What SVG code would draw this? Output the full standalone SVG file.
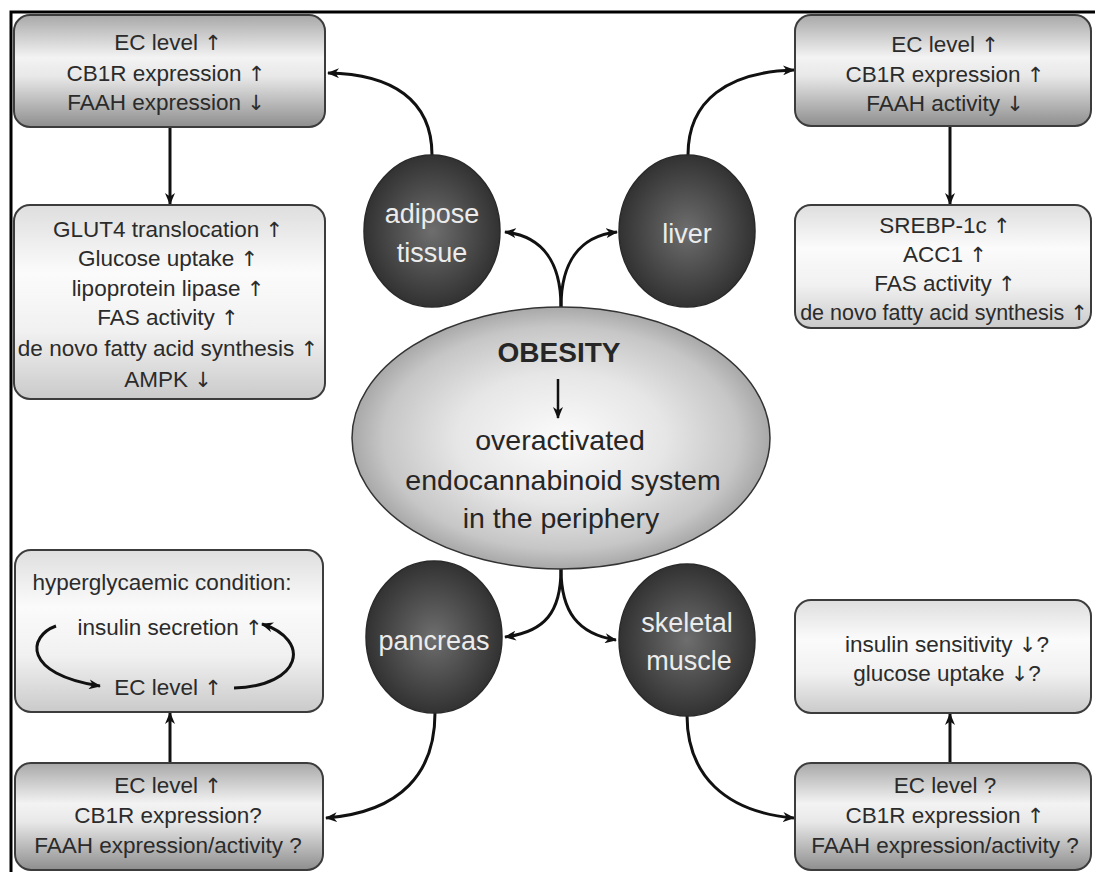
<svg xmlns="http://www.w3.org/2000/svg" width="1095" height="872" viewBox="0 0 1095 872">
  <style>
    .box { stroke: #3c3c3c; stroke-width: 2; }
    .metal { fill: url(#metalGrad); }
    .light { fill: url(#lightGrad); }
    .t { font-family: "Liberation Sans", Arial, sans-serif; font-size: 22.5px; fill: #2b2b2b; text-anchor: middle; }
    .ar { font-family: "DejaVu Sans", sans-serif; font-size: 21px; fill: #2b2b2b; }
    .organ { fill: url(#organGrad); stroke: #2a2a2a; stroke-width: 1.5; }
    .ot { font-family: "Liberation Sans", Arial, sans-serif; font-size: 27px; fill: #ececec; text-anchor: middle; }
    .ct { font-family: "Liberation Sans", Arial, sans-serif; font-size: 28.5px; fill: #262626; text-anchor: middle; }
    .conn { fill: none; stroke: #111; stroke-width: 3; marker-end: url(#head); }
    .frame { stroke: #000; stroke-width: 3; fill: none; }
  </style>
  <defs>
    <linearGradient id="metalGrad" x1="0" y1="0" x2="0" y2="1">
      <stop offset="0" stop-color="#a8a8a8"/>
      <stop offset="0.38" stop-color="#f3f3f3"/>
      <stop offset="0.55" stop-color="#e8e8e8"/>
      <stop offset="1" stop-color="#8e8e8e"/>
    </linearGradient>
    <linearGradient id="lightGrad" x1="0" y1="0" x2="0" y2="1">
      <stop offset="0" stop-color="#dedede"/>
      <stop offset="0.35" stop-color="#fbfbfb"/>
      <stop offset="0.65" stop-color="#f1f1f1"/>
      <stop offset="1" stop-color="#cacaca"/>
    </linearGradient>
    <radialGradient id="organGrad" cx="0.5" cy="0.5" r="0.5">
      <stop offset="0" stop-color="#6e6e6e"/>
      <stop offset="0.6" stop-color="#4a4a4a"/>
      <stop offset="1" stop-color="#323232"/>
    </radialGradient>
    <radialGradient id="coreGrad" cx="0.5" cy="0.5" r="0.5">
      <stop offset="0" stop-color="#fbfbfb"/>
      <stop offset="0.5" stop-color="#e6e6e6"/>
      <stop offset="0.85" stop-color="#c6c6c6"/>
      <stop offset="1" stop-color="#a8a8a8"/>
    </radialGradient>
    <marker id="head" viewBox="0 0 12 10" markerWidth="12" markerHeight="10" refX="11" refY="5" orient="auto" markerUnits="userSpaceOnUse">
      <path d="M0,0 L12,5 L0,10 L3.5,5 Z" fill="#111"/>
    </marker>
  </defs>

  <rect width="1095" height="872" fill="#fff"/>

  <!-- outer frame (top and left edges) -->
  <path class="frame" d="M1095,12 H11 V872"/>

  <!-- connectors -->
  <g id="connectors">
    <path class="conn" d="M561,307 C561,262 542,236 505,232"/>
    <path class="conn" d="M561,307 C561,262 580,236 617,232"/>
    <path class="conn" d="M432,155 C432,100 392,74 328,73"/>
    <path class="conn" d="M688,155 C688,100 728,72 794,70"/>
    <path class="conn" d="M561,569 C561,612 545,632 505,637"/>
    <path class="conn" d="M561,569 C561,612 578,634 616,640"/>
    <path class="conn" d="M435,713 C435,772 402,812 326,818"/>
    <path class="conn" d="M687,715 C687,775 725,812 794,818"/>
    <path class="conn" d="M170,127 V204"/>
    <path class="conn" d="M950,126 V204"/>
    <path class="conn" d="M170,763 V713"/>
    <path class="conn" d="M950,763 V714"/>
  </g>

  <!-- adipose tissue: receptor/enzyme status -->
  <g id="adipose-status">
    <rect class="box metal" x="14" y="15" width="311" height="112" rx="16"/>
    <text class="t" x="168" y="50">EC level  <tspan class="ar">↑</tspan></text>
    <text class="t" x="166" y="81">CB1R expression  <tspan class="ar">↑</tspan></text>
    <text class="t" x="166" y="110">FAAH expression  <tspan class="ar">↓</tspan></text>
  </g>

  <!-- adipose tissue: metabolic effects -->
  <g id="adipose-effects">
    <rect class="box light" x="14" y="205" width="311" height="194" rx="16"/>
    <text class="t" x="168" y="237">GLUT4 translocation  <tspan class="ar">↑</tspan></text>
    <text class="t" x="168" y="266">Glucose uptake  <tspan class="ar">↑</tspan></text>
    <text class="t" x="168" y="296">lipoprotein lipase  <tspan class="ar">↑</tspan></text>
    <text class="t" x="168" y="325">FAS activity  <tspan class="ar">↑</tspan></text>
    <text class="t" x="168" y="356">de novo fatty acid synthesis  <tspan class="ar">↑</tspan></text>
    <text class="t" x="168" y="387">AMPK  <tspan class="ar">↓</tspan></text>
  </g>

  <!-- liver: receptor/enzyme status -->
  <g id="liver-status">
    <rect class="box metal" x="795" y="15" width="296" height="111" rx="16"/>
    <text class="t" x="945" y="52">EC level  <tspan class="ar">↑</tspan></text>
    <text class="t" x="945" y="82">CB1R expression  <tspan class="ar">↑</tspan></text>
    <text class="t" x="945" y="111">FAAH activity <tspan class="ar">↓</tspan></text>
  </g>

  <!-- liver: metabolic effects -->
  <g id="liver-effects">
    <rect class="box light" x="795" y="205" width="296" height="123" rx="16"/>
    <text class="t" x="945" y="233">SREBP-1c  <tspan class="ar">↑</tspan></text>
    <text class="t" x="945" y="262">ACC1  <tspan class="ar">↑</tspan></text>
    <text class="t" x="945" y="291">FAS activity  <tspan class="ar">↑</tspan></text>
    <text class="t" x="944" y="320" style="font-size:21.5px">de novo fatty acid synthesis <tspan class="ar">↑</tspan></text>
  </g>

  <!-- pancreas: effects -->
  <g id="pancreas-effects">
    <rect class="box light" x="15" y="550" width="308" height="162" rx="16"/>
    <text class="t" x="162" y="590">hyperglycaemic condition:</text>
    <text class="t" x="170" y="635">insulin secretion  <tspan class="ar">↑</tspan></text>
    <text class="t" x="168" y="695">EC level  <tspan class="ar">↑</tspan></text>
    <path class="conn" d="M56,626 C28,636 22,674 100,686"/>
    <path class="conn" d="M234,688 C302,686 312,640 262,624"/>
  </g>

  <!-- pancreas: receptor/enzyme status -->
  <g id="pancreas-status">
    <rect class="box metal" x="15" y="763" width="308" height="107" rx="16"/>
    <text class="t" x="168" y="793">EC level  <tspan class="ar">↑</tspan></text>
    <text class="t" x="168" y="823">CB1R expression?</text>
    <text class="t" x="168" y="853">FAAH expression/activity ?</text>
  </g>

  <!-- skeletal muscle: effects -->
  <g id="muscle-effects">
    <rect class="box light" x="795" y="600" width="296" height="113" rx="16"/>
    <text class="t" x="947" y="652">insulin sensitivity  <tspan class="ar">↓</tspan>?</text>
    <text class="t" x="947" y="681">glucose uptake  <tspan class="ar">↓</tspan>?</text>
  </g>

  <!-- skeletal muscle: receptor/enzyme status -->
  <g id="muscle-status">
    <rect class="box metal" x="795" y="763" width="296" height="107" rx="16"/>
    <text class="t" x="945" y="793">EC level ?</text>
    <text class="t" x="945" y="823">CB1R expression  <tspan class="ar">↑</tspan></text>
    <text class="t" x="945" y="853">FAAH expression/activity ?</text>
  </g>

  <!-- organs -->
  <g id="adipose-tissue">
    <ellipse class="organ" cx="432" cy="231" rx="68" ry="76"/>
    <text class="ot" x="432" y="223">adipose</text>
    <text class="ot" x="432" y="262">tissue</text>
  </g>
  <g id="liver">
    <ellipse class="organ" cx="687" cy="231" rx="68" ry="76"/>
    <text class="ot" x="687" y="243">liver</text>
  </g>
  <g id="pancreas">
    <ellipse class="organ" cx="434" cy="637" rx="68" ry="76"/>
    <text class="ot" x="434" y="650">pancreas</text>
  </g>
  <g id="skeletal-muscle">
    <ellipse class="organ" cx="687" cy="640" rx="68" ry="76"/>
    <text class="ot" x="687" y="632">skeletal</text>
    <text class="ot" x="689" y="670">muscle</text>
  </g>

  <!-- central node -->
  <g id="obesity">
    <ellipse cx="561" cy="438" rx="209" ry="131" fill="url(#coreGrad)" stroke="#333" stroke-width="1.5"/>
    <text class="ct" x="559" y="362" style="font-weight:bold;font-size:28px">OBESITY</text>
    <path class="conn" d="M558,379 V418" style="stroke-width:2.5"/>
    <text class="ct" x="560" y="450">overactivated</text>
    <text class="ct" x="563" y="490">endocannabinoid system</text>
    <text class="ct" x="561" y="528">in the periphery</text>
  </g>
</svg>
